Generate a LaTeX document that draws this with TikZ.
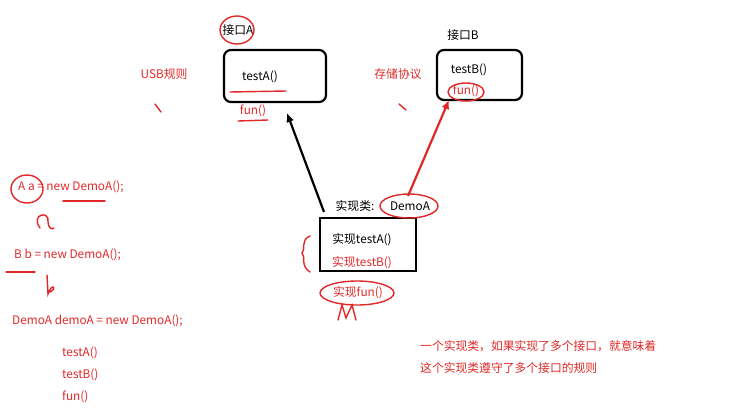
\documentclass[tikz,border=0pt]{standalone}
\usepackage{fontspec}
\usetikzlibrary{arrows.meta}
\setmainfont{Noto Sans CJK SC}
\begin{document}
\begin{tikzpicture}[x=1pt,y=-1pt,
  txt/.style={font=\fontsize{11.8}{14}\selectfont,inner sep=0pt},
  rtxt/.style={txt,text={rgb,255:red,225;green,40;blue,40}},
  pen/.style={draw={rgb,255:red,225;green,40;blue,40},line width=1.4pt,line cap=round},
  iface/.style={draw,line width=2.2pt,rounded corners=7pt},
  arr/.style={line width=2.2pt,-{Latex[length=9pt,width=8pt]}}]
\useasboundingbox (0,0) rectangle (749,410);
% interface A
\draw[iface] (224,50) rectangle (326,102);
\node[txt] (ia) at (238,30) {接口A};
\draw[pen] (237,30) ellipse (17 and 14);
\node[txt] (ta) at (260,77) {testA()};
\draw[pen] (230,92) -- (286,91);
\node[rtxt] (fa) at (253,111) {fun()};
\draw[pen] (238,121) -- (268,120);
\node[rtxt] (usb) at (164,74) {USB规则};
\draw[pen] (155,104) -- (161,112);
% interface B
\draw[iface] (437,50) rectangle (522,100);
\node[txt] (ib) at (463,35) {接口B};
\node[txt] (tb) at (469,70) {testB()};
\node[rtxt] (fb) at (466,91) {fun()};
\draw[pen] (466,92) ellipse (18 and 9);
\node[rtxt] (cc) at (398,74) {存储协议};
\draw[pen] (399,104) -- (406,110);
% class
\draw[line width=2.2pt] (320,218) rectangle (416,271);
\coordinate (ca) at (324,212);
\coordinate (cb) at (408,196);
\node[txt] (cl) at (355,206) {实现类:};
\node[txt] (dm) at (410,206) {DemoA};
\draw[pen] (409,206) ellipse (29 and 12);
\node[txt] (ita) at (362,240) {实现testA()};
\node[rtxt] (itb) at (362,263) {实现testB()};
\node[rtxt] (ifn) at (358,293) {实现fun()};
\draw[pen] (357,293) ellipse (37 and 12);
\draw[pen] (338,320) -- (342,305) -- (346,318) -- (352,305) -- (356,320);
\draw[pen] (310,236) .. controls (300,240) and (306,250) .. (302,253) .. controls (306,256) and (300,266) .. (310,272);
% arrows
\coordinate (ea) at (287,113);
\coordinate (eb) at (449,100);
\draw[arr] (ca) -- (ea);
\draw[arr,draw={rgb,255:red,225;green,40;blue,40},fill={rgb,255:red,225;green,40;blue,40}] (cb) -- (eb);
% left code
\node[rtxt,anchor=west] (l1) at (18,187) {A a = new DemoA();};
\draw[pen] (27,189) ellipse (16 and 14);
\draw[pen] (63,201) -- (105,201);
\draw[pen] (40,228) .. controls (30,214) and (50,210) .. (48,222) .. controls (48,228) and (52,230) .. (54,228);
\node[rtxt,anchor=west] (l2) at (14,255) {B b = new DemoA();};
\draw[pen] (6,272) -- (35,272);
\draw[pen] (47,275) -- (48,294) .. controls (52,282) and (58,288) .. (50,292);
\node[rtxt,anchor=west] (l3) at (12,321) {DemoA demoA = new DemoA();};
\node[rtxt,anchor=west] (l4) at (62,353) {testA()};
\node[rtxt,anchor=west] (l5) at (62,375) {testB()};
\node[rtxt,anchor=west] (l6) at (62,397) {fun()};
% note
\node[rtxt,anchor=west] (n1) at (420,346) {一个实现类，如果实现了多个接口，就意味着};
\node[rtxt,anchor=west] (n2) at (420,368) {这个实现类遵守了多个接口的规则};
\end{tikzpicture}
\end{document}
